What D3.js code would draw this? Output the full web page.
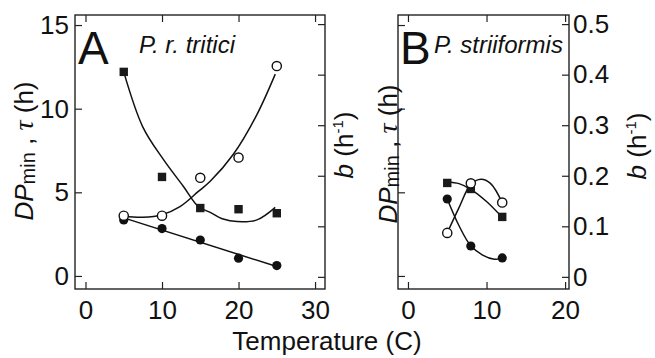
<!DOCTYPE html>
<html>
<head>
<meta charset="utf-8">
<script src="https://cdn.jsdelivr.net/npm/d3@7"></script>
<style>
  html, body { margin: 0; padding: 0; background: #fff; }
  svg { display: block; font-family: "Liberation Sans", Arial, sans-serif; }
  .tick text { font-size: 26px; fill: #111; }
  .tick line { stroke: #222; stroke-width: 1.2; }
</style>
</head>
<body>
<script>
// Panel A: P. r. tritici
const tempA = [5, 10, 15, 20, 25];
const dpminA = [12.2, 5.92, 4.06, 3.99, 3.75];     // squares, h
const tauA = [3.35, 2.83, 2.15, 1.06, 0.62];       // filled circles, h
const bA = [0.121, 0.121, 0.196, 0.236, 0.417];    // open circles, 1/h

// fitted curves as [temp, value]
const fitDpminA = [[5, 12.2], [7.5, 8.9], [10.2, 6.95], [12.8, 5.35], [14.75, 4.15],
                   [16.3, 3.8], [18, 3.4], [19.8, 3.25], [22.4, 3.35], [24.8, 4.1]];
const fitTauA = [[5, 3.47], [25, 0.56]];
const fitBA = [[5, 0.12], [7.5, 0.118], [10, 0.123], [12.35, 0.139], [14.75, 0.169],
               [16.3, 0.189], [19.3, 0.242], [22.4, 0.321], [24.8, 0.401]];

// Panel B: P. striiformis
const tempB = [5, 8, 12];
const dpminB = [5.56, 5.2, 3.53];
const tauB = [4.6, 1.79, 1.08];
const bB = [0.087, 0.185, 0.147];

const fitDpminB = [[5, 5.62], [6.5, 5.52], [8, 5.18], [10, 4.45], [12, 3.5]];
const fitTauB = [[5, 4.6], [6.5, 3.0], [8, 1.8], [9.5, 1.25], [11, 1.0], [12, 1.05]];
const fitBB = [[5, 0.087], [6.5, 0.137], [8, 0.183], [9.3, 0.193], [10.5, 0.185], [12, 0.147]];

// ticks
const xTicksA = [0, 10, 20, 30];
const xTicksB = [0, 10, 20];
const hTicks = [0, 5, 10, 15];
const bTicks = [0, 0.1, 0.2, 0.3, 0.4, 0.5];

const svg = d3.select('body').append('svg')
    .attr('width', 655)
    .attr('height', 358);

const frameTop = 15, frameBottom = 289;
const yH = d3.scaleLinear().domain([-0.78, 15.6]).range([frameBottom, frameTop]);
const yB = d3.scaleLinear().domain([-0.024, 0.518]).range([frameBottom, frameTop]);

function drawPanel(p) {
    const x = d3.scaleLinear().domain(p.xDomain).range([p.left, p.right]);
    const g = svg.append('g');

    // frame
    g.append('rect')
        .attr('x', p.left).attr('y', frameTop)
        .attr('width', p.right - p.left).attr('height', frameBottom - frameTop)
        .attr('fill', 'none').attr('stroke', '#222').attr('stroke-width', 1.4);

    // bottom axis with labels
    g.append('g')
        .attr('transform', `translate(0,${frameBottom})`)
        .call(d3.axisBottom(x).tickValues(p.xTicks).tickSize(-7).tickPadding(12))
        .call(a => a.select('.domain').remove());

    // top axis ticks only
    g.append('g')
        .attr('transform', `translate(0,${frameTop})`)
        .call(d3.axisTop(x).tickValues(p.xTicks).tickSize(-7).tickFormat(''))
        .call(a => a.select('.domain').remove());

    // left axis (h)
    const left = d3.axisLeft(yH).tickValues(hTicks).tickSize(-7).tickPadding(6);
    if (!p.leftLabels) left.tickFormat('');
    g.append('g')
        .attr('transform', `translate(${p.left},0)`)
        .call(left)
        .call(a => a.select('.domain').remove());

    // right axis (b)
    const right = d3.axisRight(yB).tickValues(bTicks).tickSize(-7).tickPadding(4)
        .tickFormat(d => d === 0 ? '0' : d3.format('.1f')(d));
    if (!p.rightLabels) right.tickFormat('');
    g.append('g')
        .attr('transform', `translate(${p.right},0)`)
        .call(right)
        .call(a => a.select('.domain').remove());

    // curves
    const lineH = d3.line().x(d => x(d[0])).y(d => yH(d[1])).curve(d3.curveCatmullRom);
    const lineB = d3.line().x(d => x(d[0])).y(d => yB(d[1])).curve(d3.curveCatmullRom);
    const curves = [[p.fitDpmin, lineH], [p.fitTau, lineH], [p.fitB, lineB]];
    curves.forEach(([pts, ln]) => {
        g.append('path')
            .attr('d', ln(pts))
            .attr('fill', 'none')
            .attr('stroke', '#111')
            .attr('stroke-width', 1.5);
    });

    // markers
    g.selectAll('.sq')
        .data(p.temp.map((t, i) => [t, p.dpmin[i]]))
        .join('rect')
            .attr('x', d => x(d[0]) - 4.2)
            .attr('y', d => yH(d[1]) - 4.2)
            .attr('width', 8.4).attr('height', 8.4)
            .attr('fill', '#1a1a1a');

    g.selectAll('.fc')
        .data(p.temp.map((t, i) => [t, p.tau[i]]))
        .join('circle')
            .attr('cx', d => x(d[0]))
            .attr('cy', d => yH(d[1]))
            .attr('r', 4.6)
            .attr('fill', '#111');

    g.selectAll('.oc')
        .data(p.temp.map((t, i) => [t, p.b[i]]))
        .join('circle')
            .attr('cx', d => x(d[0]))
            .attr('cy', d => yB(d[1]))
            .attr('r', 4.6)
            .attr('fill', '#fff')
            .attr('stroke', '#111')
            .attr('stroke-width', 1.4);

    // panel letter and species
    g.append('text')
        .attr('x', p.letterX).attr('y', 64)
        .attr('font-size', 46).attr('fill', '#111')
        .text(p.letter);
    g.append('text')
        .attr('x', p.speciesX).attr('y', 53)
        .attr('font-size', 24).attr('font-style', 'italic').attr('fill', '#111')
        .text(p.species);
}

drawPanel({
    left: 75, right: 325, xDomain: [-1.37, 31.3], xTicks: xTicksA,
    leftLabels: true, rightLabels: false,
    temp: tempA, dpmin: dpminA, tau: tauA, b: bA,
    fitDpmin: fitDpminA, fitTau: fitTauA, fitB: fitBA,
    letter: 'A', letterX: 78, species: 'P. r. tritici', speciesX: 139
});

drawPanel({
    left: 398, right: 569, xDomain: [-1.27, 20.5], xTicks: xTicksB,
    leftLabels: false, rightLabels: true,
    temp: tempB, dpmin: dpminB, tau: tauB, b: bB,
    fitDpmin: fitDpminB, fitTau: fitTauB, fitB: fitBB,
    letter: 'B', letterX: 400, species: 'P. striiformis', speciesX: 434
});

// y axis labels
function hLabel(x, y) {
    const t = svg.append('text')
        .attr('transform', `translate(${x},${y}) rotate(-90)`)
        .attr('text-anchor', 'middle')
        .attr('font-size', 26).attr('fill', '#111');
    t.append('tspan').attr('font-style', 'italic').text('DP');
    t.append('tspan').attr('font-size', 20).attr('dy', 2).text('min');
    t.append('tspan').attr('dy', -2).text(' , ');
    t.append('tspan').attr('font-family', '"Liberation Serif", serif')
        .attr('font-style', 'italic').attr('font-size', 28).text('τ');
    t.append('tspan').text(' (h)');
}

function bLabel(x, y) {
    const t = svg.append('text')
        .attr('transform', `translate(${x},${y}) rotate(-90)`)
        .attr('text-anchor', 'middle')
        .attr('font-size', 26).attr('fill', '#111');
    t.append('tspan').attr('font-style', 'italic').text('b');
    t.append('tspan').text(' (h');
    t.append('tspan').attr('font-size', 15).attr('dy', -10).text('-1');
    t.append('tspan').attr('dy', 10).text(')');
}

hLabel(33, 151);
bLabel(353, 145);
hLabel(397, 154);
bLabel(646, 146);

svg.append('text')
    .attr('x', 327).attr('y', 350)
    .attr('text-anchor', 'middle')
    .attr('font-size', 26).attr('fill', '#111')
    .text('Temperature (C)');
</script>
</body>
</html>
